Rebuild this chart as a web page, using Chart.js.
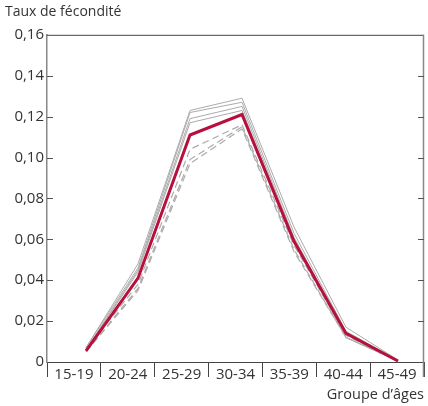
<!DOCTYPE html>
<html>
<head>
<meta charset="utf-8">
<script src="https://cdn.jsdelivr.net/npm/chart.js@4/dist/chart.umd.min.js"></script>
<style>
  html, body { margin: 0; padding: 0; background: #fff; }
  #wrap { width: 428px; height: 406px; position: relative; }
</style>
</head>
<body>
<div id="wrap"><canvas id="c" width="428" height="406"></canvas></div>
<script>
const categories = ['15-19', '20-24', '25-29', '30-34', '35-39', '40-44', '45-49'];
const yTicks = [0, 0.02, 0.04, 0.06, 0.08, 0.10, 0.12, 0.14, 0.16];

const highlight = [0.0055, 0.041, 0.111, 0.121, 0.059, 0.014, 0.0005];

const solid1 = [0.007, 0.048, 0.123, 0.129, 0.066, 0.017, 0.0010];
const solid2 = [0.007, 0.046, 0.122, 0.127, 0.063, 0.015, 0.0008];
const solid3 = [0.006, 0.045, 0.119, 0.125, 0.061, 0.014, 0.0006];
const solid4 = [0.006, 0.044, 0.117, 0.123, 0.060, 0.012, 0.0005];

const dashed1 = [0.006, 0.038, 0.104, 0.116, 0.057, 0.013, 0.0005];
const dashed2 = [0.005, 0.036, 0.099, 0.115, 0.055, 0.012, 0.0005];
const dashed3 = [0.005, 0.035, 0.097, 0.114, 0.054, 0.012, 0.0005];

const FONT = "'Open Sans', 'Noto Sans', sans-serif";
const TEXT = '#333333';

const pts = arr => arr.map((v, i) => ({ x: i, y: v }));
const grayLine = (arr, dashed) => ({
  data: pts(arr),
  xAxisID: 'xd',
  borderColor: '#ababab',
  borderWidth: dashed ? 1.2 : 1,
  borderDash: dashed ? [7, 4] : [],
  pointRadius: 0,
  tension: 0,
  fill: false,
  order: 2
});

const frame = {
  id: 'frame',
  afterDraw(chart) {
    const { ctx, chartArea: { left, right, top, bottom }, scales: { y } } = chart;
    ctx.save();
    ctx.lineWidth = 1;
    ctx.strokeStyle = '#444';
    ctx.beginPath();
    ctx.moveTo(left, top + 0.5);
    ctx.lineTo(right, top + 0.5);
    ctx.stroke();
    ctx.strokeStyle = '#888';
    ctx.lineWidth = 1.5;
    ctx.beginPath();
    ctx.moveTo(right - 0.5, top);
    ctx.lineTo(right - 0.5, bottom + 15);
    ctx.stroke();
    ctx.strokeStyle = '#555';
    ctx.lineWidth = 1;
    yTicks.forEach(v => {
      if (v === 0 || v === 0.16) return;
      const py = Math.round(y.getPixelForValue(v)) + 0.5;
      ctx.beginPath();
      ctx.moveTo(left, py); ctx.lineTo(left + 6, py);
      ctx.moveTo(right - 6, py); ctx.lineTo(right, py);
      ctx.stroke();
    });
    ctx.restore();
  }
};

new Chart(document.getElementById('c'), {
  type: 'line',
  data: {
    datasets: [
      {
        data: pts(highlight),
        xAxisID: 'xd',
        borderColor: '#b8103c',
        borderWidth: 3,
        pointRadius: 0,
        tension: 0,
        fill: false,
        order: 0
      },
      grayLine(solid1, false),
      grayLine(solid2, false),
      grayLine(solid3, false),
      grayLine(solid4, false),
      grayLine(dashed1, true),
      grayLine(dashed2, true),
      grayLine(dashed3, true)
    ]
  },
  options: {
    responsive: false,
    animation: false,
    layout: { padding: { left: 5, right: 4, top: 0, bottom: 0 } },
    plugins: {
      legend: { display: false },
      tooltip: { enabled: false },
      title: {
        display: true,
        text: 'Taux de fécondité',
        align: 'start',
        color: TEXT,
        font: { family: FONT, size: 14, weight: 'normal' },
        padding: { top: 4, bottom: 14 }
      }
    },
    scales: {
      x: {
        type: 'category',
        labels: categories,
        offset: true,
        position: 'bottom',
        grid: {
          display: true,
          offset: true,
          drawOnChartArea: false,
          drawTicks: true,
          tickLength: 15,
          color: '#444',
          lineWidth: 1
        },
        border: { display: true, color: '#444', width: 1 },
        ticks: {
          color: TEXT,
          font: { family: FONT, size: 15 },
          padding: -11,
          maxRotation: 0,
          autoSkip: false
        },
        title: {
          display: true,
          text: 'Groupe d’âges',
          align: 'end',
          color: TEXT,
          font: { family: FONT, size: 14.5 },
          padding: { top: 0, bottom: 2 }
        },
        afterFit(scale) { scale.height = 44; }
      },
      xd: {
        type: 'linear',
        display: false,
        min: -0.75,
        max: 6.5
      },
      y: {
        min: 0,
        max: 0.16,
        afterBuildTicks(scale) { scale.ticks = yTicks.map(v => ({ value: v })); },
        grid: { display: false, drawTicks: false },
        border: { display: true, color: '#888', width: 1.5 },
        ticks: {
          color: TEXT,
          font: { family: FONT, size: 15 },
          padding: 3,
          callback: v => v === 0 ? '0' : v.toFixed(2).replace('.', ',')
        },
        afterFit(scale) { scale.width = 42; }
      }
    }
  },
  plugins: [frame]
});
</script>
</body>
</html>
